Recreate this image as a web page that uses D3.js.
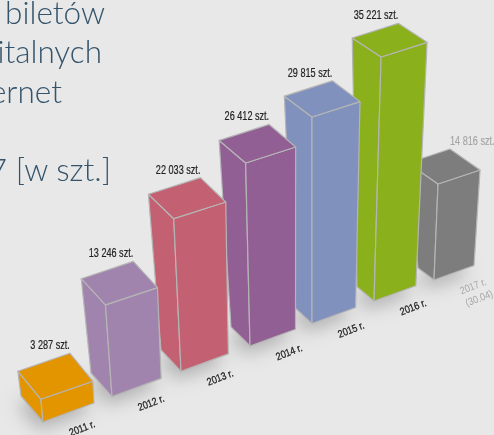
<!DOCTYPE html>
<html>
<head>
<meta charset="utf-8">
<script src="https://cdn.jsdelivr.net/npm/d3@7"></script>
<style>
  html, body { margin: 0; padding: 0; background: #e8e8e8; overflow: hidden; }
  text { font-family: "Liberation Sans Narrow", "Liberation Sans", sans-serif; }
  svg { filter: blur(0.4px); }
</style>
</head>
<body>
<div id="chart"></div>
<script>
const width = 494, height = 435;

// data
const years = [2011, 2012, 2013, 2014, 2015, 2016, 2017];
const tickets = [3287, 13246, 22033, 26412, 29815, 35221, 14816];
const valueLabels = ["3 287 szt.", "13 246 szt.", "22 033 szt.", "26 412 szt.", "29 815 szt.", "35 221 szt.", "14 816 szt."];
const yearLabels = ["2011 r.", "2012 r.", "2013 r.", "2014 r.", "2015 r.", "2016 r.", "2017 r."];
const barColors = ["#e39500", "#a084ae", "#c36071", "#925f95", "#8191bd", "#8ab01b", "#7d7d7d"];
const titleLines = ["biletów", "italnych", "ernet", "", "7 [w szt.]"];

const svg = d3.select("#chart")
  .append("svg")
    .attr("width", width)
    .attr("height", height)
    .style("display", "block");

// soft shadow under the bars
const blur = svg.append("defs").append("filter")
    .attr("id", "blur")
    .attr("x", "-50%").attr("y", "-50%")
    .attr("width", "200%").attr("height", "200%");
blur.append("feGaussianBlur").attr("stdDeviation", 9);

// the row of bars runs away from the viewer, so everything depends on the year
const baseX = d3.scaleLinear().domain([2011, 2014, 2016, 2017]).range([43, 250, 374, 434]);
const baseY = d3.scaleLinear().domain([2011, 2014, 2016, 2017]).range([422, 346, 301, 280]);

const heightScale = d3.scaleLinear().domain([0, 35221]).range([0, 244]);
const foreshorten = d3.scaleLinear().domain([2011, 2016, 2017]).range([1, 1, 0.935]);
const tilt = d3.scaleLinear().domain([2011, 2015, 2016, 2017]).range([-0.095, 0, 0.029, 0.042]);

// edges of a bar: floor and roof
const floorW = { x: d3.scaleLinear().domain([2011, 2017]).range([51, 40]), y: d3.scaleLinear().domain([2011, 2017]).range([-19, -14.5]) };
const floorD = { x: d3.scaleLinear().domain([2011, 2017]).range([-22, -16]), y: d3.scaleLinear().domain([2011, 2017]).range([-26, -12]) };
const roofW = { x: d3.scaleLinear().domain([2011, 2013, 2016, 2017]).range([52, 52, 46, 42]), y: d3.scaleLinear().domain([2011, 2017]).range([-18, -14]) };
const roofD = { x: d3.scaleLinear().domain([2011, 2017]).range([-23, -30]), y: d3.scaleLinear().domain([2011, 2016, 2017]).range([-28, -19, -21]) };

const bars = years.map((year, i) => {
  const h = heightScale(tickets[i]) * foreshorten(year);
  const front = [baseX(year), baseY(year)];
  const top = [front[0] + tilt(year) * h, front[1] - h];
  const move = (p, v) => [p[0] + v.x(year), p[1] + v.y(year)];
  const right = move(front, floorW), left = move(front, floorD);
  const topRight = move(top, roofW), topLeft = move(top, roofD);
  const back = [topRight[0] + roofD.x(year), topRight[1] + roofD.y(year)];
  const floorBack = [right[0] + floorD.x(year), right[1] + floorD.y(year)];
  return {
    year, i, front, top, right, left, topRight, topLeft, back,
    color: barColors[i],
    faces: [[left, front, top, topLeft], [front, right, topRight, top], [top, topRight, back, topLeft]],
    footprint: [left, front, right, floorBack]
  };
});

const line = d3.line().curve(d3.curveLinearClosed);

// shadow
svg.append("g")
    .attr("filter", "url(#blur)")
  .selectAll("path")
  .data(bars)
  .join("path")
    .attr("d", d => line(d.footprint))
    .attr("transform", "translate(-4,8)")
    .attr("fill", "#9c9c9c")
    .attr("fill-opacity", 0.75);

// back bars first, the nearer ones cover them
const barG = svg.append("g")
  .selectAll("g")
  .data(bars.slice().reverse())
  .join("g");

barG.selectAll("path")
  .data(d => d.faces.map(f => ({ f, color: d.color })))
  .join("path")
    .attr("d", d => line(d.f))
    .attr("fill", d => d.color)
    .attr("stroke", "#b5b5b5")
    .attr("stroke-width", 1.2)
    .attr("stroke-linejoin", "round");

// value labels
svg.append("g")
  .selectAll("text")
  .data(bars)
  .join("text")
    .attr("transform", d => {
      const last = d.year === 2017;
      return `translate(${d.back[0]},${d.back[1] - 4}) scale(0.76,1)`;
    })
    .attr("text-anchor", d => d.year === 2017 ? "start" : "end")
    .attr("font-size", 12)
    .attr("fill", d => d.year === 2017 ? "#a6a6a6" : "#222")
    .attr("stroke", d => d.year === 2017 ? "#a6a6a6" : "#222")
    .attr("stroke-width", 0.2)
    .text(d => valueLabels[d.i]);

// year labels
svg.append("g")
  .selectAll("text")
  .data(bars)
  .join("text")
    .attr("transform", d => `translate(${d.front[0] + 39},${d.front[1] + 6}) rotate(-21) scale(0.86,1)`)
    .attr("text-anchor", "middle")
    .attr("dy", "0.35em")
    .attr("font-size", 10.5)
    .attr("fill", d => d.year === 2017 ? "#a6a6a6" : "#222")
    .attr("stroke", d => d.year === 2017 ? "none" : "#222")
    .attr("stroke-width", 0.3)
    .text(d => yearLabels[d.i]);

svg.append("text")
    .attr("transform", `translate(${baseX(2017) + 45},${baseY(2017) + 18}) rotate(-21) scale(0.86,1)`)
    .attr("text-anchor", "middle")
    .attr("dy", "0.35em")
    .attr("font-size", 10.5)
    .attr("fill", "#a6a6a6")
    .text("(30.04)");

// title, cut off by the left edge of the crop
const titleRight = d3.scaleOrdinal().domain(titleLines).range([105, 102, 62, 0, 111]);

svg.append("g")
  .selectAll("text")
  .data(titleLines)
  .join("text")
    .attr("x", d => titleRight(d))
    .attr("y", (d, i) => 24 + i * 39.3)
    .attr("text-anchor", "end")
    .style("font-family", "Lato, sans-serif")
    .style("font-weight", 300)
    .attr("font-size", 31.5)
    .attr("fill", "#34546b")
    .text(d => d);
</script>
</body>
</html>
